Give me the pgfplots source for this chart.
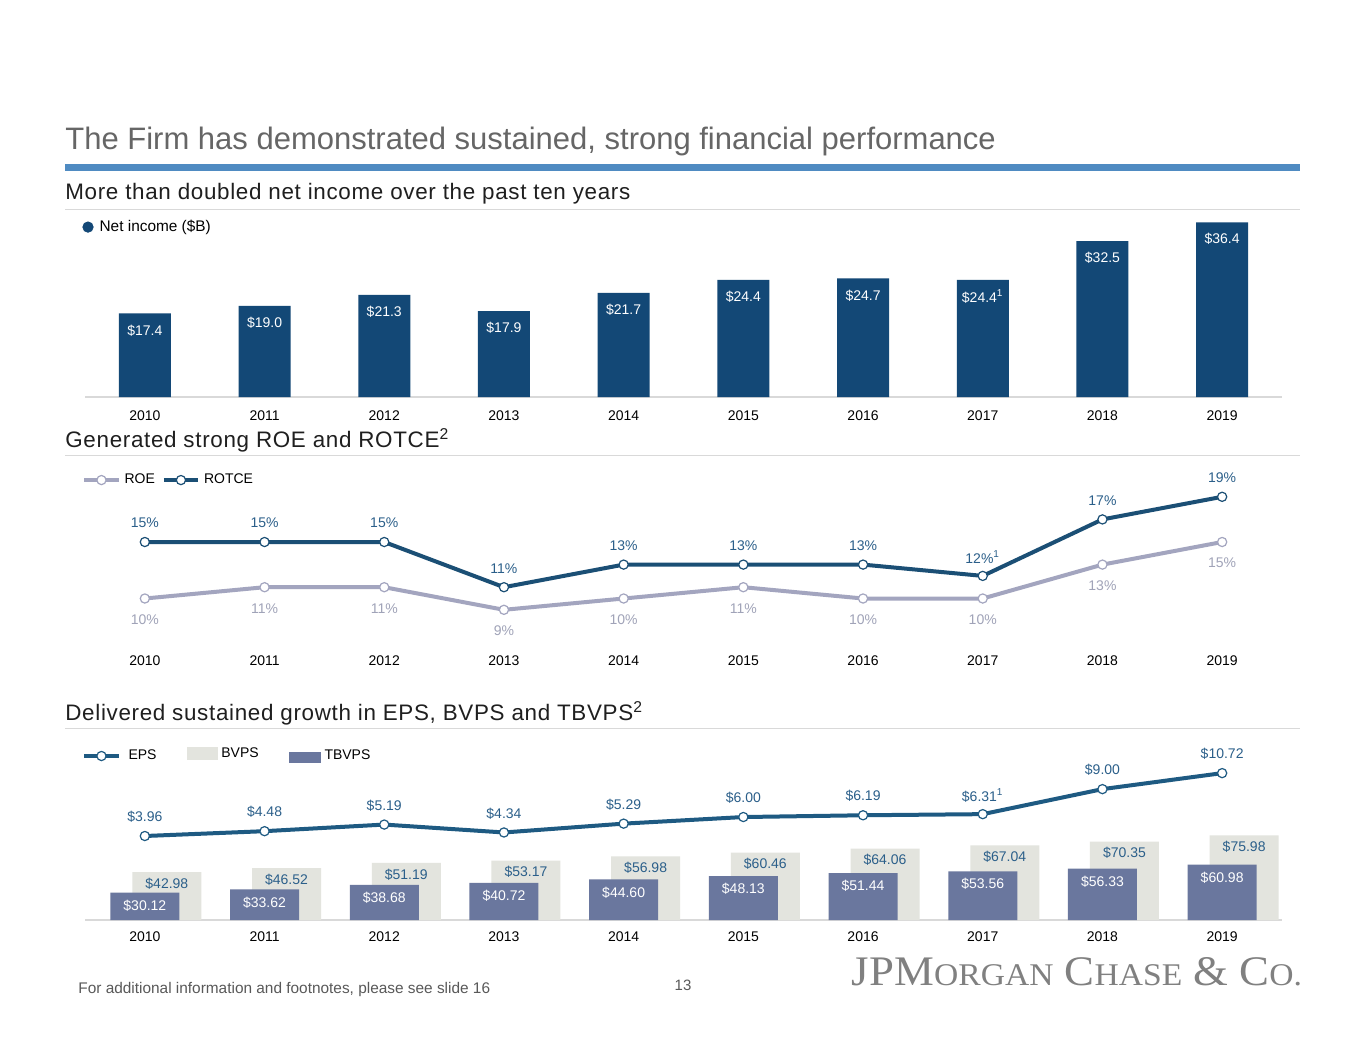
\documentclass[border=0pt]{standalone}
\usepackage{fontspec}
\setmainfont{Liberation Sans}
\newfontfamily\headfont[LetterSpace=3]{Liberation Sans}
\newfontfamily\logofont{Liberation Serif}
\usepackage{pgfplots}
\pgfplotsset{compat=1.18}
\definecolor{titlegray}{HTML}{666666}
\definecolor{ruleblue}{HTML}{4F8BC2}
\definecolor{headtext}{HTML}{1F1F1F}
\definecolor{sepgray}{HTML}{D9D9D9}
\definecolor{nib}{HTML}{134876}
\definecolor{rotce}{HTML}{1B4F75}
\definecolor{roe}{HTML}{A3A5BF}
\definecolor{rotcelab}{HTML}{2B5F8A}
\definecolor{roelab}{HTML}{A0A3B8}
\definecolor{tb}{HTML}{6A779E}
\definecolor{bv}{HTML}{E3E4DE}
\definecolor{eps}{HTML}{1E5A82}
\definecolor{foot}{HTML}{595959}
\definecolor{logogray}{HTML}{808080}
\newcommand\lab{\fontsize{7}{8.4}\selectfont}
\newcommand\hfnt{\headfont\fontsize{11.2}{13}\selectfont}
\pgfplotsset{
  base/.style={scale only axis, width=598.5pt, xmin=-0.5, xmax=9.5, clip=false,
    xtick={0,...,9}, xticklabels={2010,2011,2012,2013,2014,2015,2016,2017,2018,2019},
    major tick length=0pt, ytick=\empty, tick label style={font=\lab, text=black},
    xticklabel style={anchor=center}},
  lg/.style={legend style={draw=none, fill=none, font=\lab, inner sep=0pt, legend columns=-1,
    /tikz/every even column/.append style={column sep=1.5pt}}},
}
\begin{document}
\begin{tikzpicture}[x=0.5pt,y=-0.5pt]
\fill[white] (0,0) rectangle (1365,1055);
\useasboundingbox (0,0) rectangle (1365,1055);
% titles and rules
\node[anchor=west, inner sep=0, text=titlegray, font=\fontsize{15.5}{18}\selectfont] at (65,141) {The Firm has demonstrated sustained, strong financial performance};
\fill[ruleblue] (65,164) rectangle (1300,171);
\node[anchor=west, inner sep=0, text=headtext, font=\hfnt] at (65,194) {More than doubled net income over the past ten years};
\draw[sepgray, line width=0.5pt] (65,209) -- (1300,209);
\node[anchor=west, inner sep=0, text=headtext, font=\hfnt] at (65,440) {Generated strong ROE and ROTCE\textsuperscript{2}};
\draw[sepgray, line width=0.5pt] (65,455) -- (1300,455);
\node[anchor=west, inner sep=0, text=headtext, font=\hfnt] at (65,713) {Delivered sustained growth in EPS, BVPS and TBVPS\textsuperscript{2}};
\draw[sepgray, line width=0.5pt] (65,728) -- (1300,728);
% footer
\node[anchor=west, inner sep=0, text=foot, font=\fontsize{7.7}{9}\selectfont] at (78,990) {For additional information and footnotes, please see slide 16};
\node[inner sep=0, text=foot, font=\fontsize{7.5}{9}\selectfont] at (683,985) {13};
\node[inner sep=0, text=logogray] at (1077,972) {\resizebox{225pt}{14pt}{\logofont\fontsize{20}{20}\selectfont JPM{\fontsize{15}{15}\selectfont ORGAN} C{\fontsize{15}{15}\selectfont HASE} \& C{\fontsize{15}{15}\selectfont O.}}};

% ---------- Chart 1: net income ----------
\begin{axis}[base, at={(42.5pt,-198.5pt)}, anchor=south west, height=96pt, ymin=0, ymax=40,
  axis x line=bottom, axis y line=none, x axis line style={-, draw=sepgray, line width=0.6pt},
  xticklabel style={yshift=-9.5pt}, lg,
  legend style={at={(axis description cs:-0.0025,0.885)}, anchor=west, font=\fontsize{7.7}{9}\selectfont}]
\addplot[ybar, bar width=26pt, bar shift=0pt, fill=nib, draw=none, forget plot,
  nodes near coords, point meta=explicit symbolic,
  nodes near coords style={anchor=center, yshift=-8.5pt, text=white, font=\lab}]
  coordinates {(0,17.4)[\$17.4] (1,19.0)[\$19.0] (2,21.3)[\$21.3] (3,17.9)[\$17.9] (4,21.7)[\$21.7]
    (5,24.4)[\$24.4] (6,24.7)[\$24.7] (7,24.4)[\$24.4\textsuperscript{1}] (8,32.5)[\$32.5] (9,36.4)[\$36.4]};
\addlegendimage{legend image code/.code={\fill[nib] (3pt,0pt) circle (2.6pt);}}
\addlegendentry{\hspace{1pt}Net income (\$B)}
\end{axis}

% ---------- Chart 2: ROE / ROTCE ----------
\begin{axis}[base, at={(42.5pt,-316.2pt)}, anchor=south west, height=73.45pt, ymin=7, ymax=20,
  axis line style={draw=none}, xticklabel style={yshift=-14.3pt}, lg,
  legend style={at={(axis description cs:-0.0025,1.037)}, anchor=west}]
\addplot[roe, line width=2pt, mark=*, mark size=2.3pt, mark options={fill=white, draw=roe, line width=0.6pt},
  nodes near coords, point meta=explicit symbolic,
  nodes near coords style={anchor=center, yshift=-10.5pt, text=roelab, font=\lab}]
  coordinates {(0,10)[10\%] (1,11)[11\%] (2,11)[11\%] (3,9)[9\%] (4,10)[10\%]
    (5,11)[11\%] (6,10)[10\%] (7,10)[10\%] (8,13)[13\%] (9,15)[15\%]};
\addlegendentry{ROE}
\addplot[rotce, line width=2pt, mark=*, mark size=2.3pt, mark options={fill=white, draw=rotce, line width=0.6pt},
  nodes near coords, point meta=explicit symbolic,
  nodes near coords style={anchor=center, yshift=9.5pt, text=rotcelab, font=\lab}]
  coordinates {(0,15)[15\%] (1,15)[15\%] (2,15)[15\%] (3,11)[11\%] (4,13)[13\%]
    (5,13)[13\%] (6,13)[13\%] (7,12)[12\%\textsuperscript{1}] (8,17)[17\%] (9,19)[19\%]};
\addlegendentry{ROTCE}
\end{axis}

% ---------- Chart 3: EPS, BVPS, TBVPS ----------
\begin{axis}[base, at={(42.5pt,-460pt)}, anchor=south west, height=80pt, ymin=0, ymax=143.5,
  axis x line=bottom, axis y line=none, x axis line style={-, draw=sepgray, line width=0.6pt},
  xticklabel style={yshift=-8.5pt}]
\addplot[ybar, bar width=34.5pt, bar shift=11pt, fill=bv, draw=none,
  nodes near coords, point meta=explicit symbolic,
  nodes near coords style={anchor=center, xshift=11pt, yshift=-5.75pt, text=rotcelab, font=\lab}]
  coordinates {(0,42.98)[\$42.98] (1,46.52)[\$46.52] (2,51.19)[\$51.19] (3,53.17)[\$53.17] (4,56.98)[\$56.98]
    (5,60.46)[\$60.46] (6,64.06)[\$64.06] (7,67.04)[\$67.04] (8,70.35)[\$70.35] (9,75.98)[\$75.98]};
\end{axis}
\begin{axis}[base, at={(42.5pt,-460pt)}, anchor=south west, height=80pt, ymin=0, ymax=175.8, hide axis]
\addplot[ybar, bar width=34.5pt, bar shift=0pt, fill=tb, draw=none,
  nodes near coords, point meta=explicit symbolic,
  nodes near coords style={anchor=center, yshift=-6.5pt, text=white, font=\lab}]
  coordinates {(0,30.12)[\$30.12] (1,33.62)[\$33.62] (2,38.68)[\$38.68] (3,40.72)[\$40.72] (4,44.60)[\$44.60]
    (5,48.13)[\$48.13] (6,51.44)[\$51.44] (7,53.56)[\$53.56] (8,56.33)[\$56.33] (9,60.98)[\$60.98]};
\end{axis}
\begin{axis}[base, at={(42.5pt,-460pt)}, anchor=south west, height=80pt, ymin=-5.07, ymax=12.13, hide axis, lg,
  legend style={at={(axis description cs:-0.0025,1.025)}, anchor=west,
    /tikz/every even column/.append style={column sep=13pt}}]
\addplot[eps, line width=2pt, mark=*, mark size=2.3pt, mark options={fill=white, draw=eps, line width=0.6pt},
  nodes near coords, point meta=explicit symbolic,
  nodes near coords style={anchor=center, yshift=9.5pt, text=rotcelab, font=\lab}]
  coordinates {(0,3.96)[\$3.96] (1,4.48)[\$4.48] (2,5.19)[\$5.19] (3,4.34)[\$4.34] (4,5.29)[\$5.29]
    (5,6.00)[\$6.00] (6,6.19)[\$6.19] (7,6.31)[\$6.31\textsuperscript{1}] (8,9.00)[\$9.00] (9,10.72)[\$10.72]};
\addlegendentry{\hspace{2pt}EPS}
\addlegendimage{legend image code/.code={\fill[bv] (0pt,-1.5pt) rectangle (15pt,4.5pt);}}
\addlegendentry{\raisebox{1.5pt}{BVPS}}
\addlegendimage{legend image code/.code={\fill[tb] (0pt,-3pt) rectangle (15.5pt,2pt);}}
\addlegendentry{TBVPS}
\end{axis}
\end{tikzpicture}
\end{document}
